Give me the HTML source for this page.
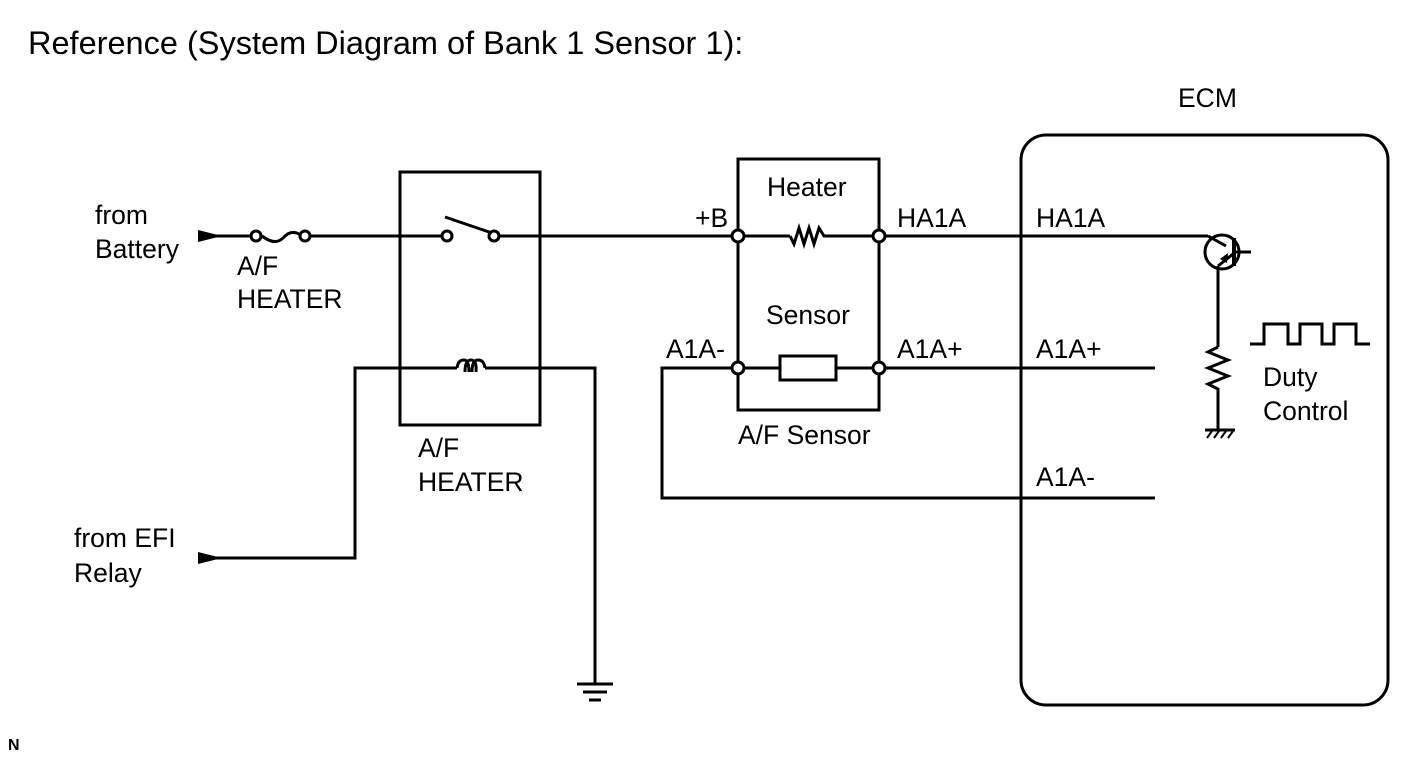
<!DOCTYPE html>
<html><head><style>
body{margin:0;background:#fff;}
svg{display:block;}
text{font-family:"Liberation Sans",sans-serif;font-size:26.5px;fill:#000;}
</style></head><body>
<svg width="1424" height="759" viewBox="0 0 1424 759" xmlns="http://www.w3.org/2000/svg">
<g stroke="#000" stroke-width="3" fill="none">
<line x1="200" y1="236" x2="250" y2="236"/>
<line x1="310" y1="236" x2="444" y2="236"/>
<line x1="498" y1="236" x2="733" y2="236"/>
<path d="M262 236 Q275 246 283 238 Q292 228 302 236"/>
<circle cx="256" cy="236" r="5" fill="#fff"/>
<circle cx="305" cy="236" r="5" fill="#fff"/>
<circle cx="447" cy="236" r="5" fill="#fff"/>
<circle cx="494" cy="236" r="5" fill="#fff"/>
<line x1="445" y1="217" x2="492" y2="233"/>
<rect x="400" y="172" width="140" height="253"/>
<polyline points="200,558 355,558 355,368 457,368"/>
<polyline points="485,368 595,368 595,683"/>
<path d="M457 368 Q458 360 464 360 Q469 360 469 372 M465 372 Q465 360 471 360 Q477 360 476 372 M472 372 Q472 360 478 360 Q484 360 485 368"/>
<line x1="577" y1="684" x2="613" y2="684"/>
<line x1="583" y1="692" x2="607" y2="692"/>
<line x1="589" y1="700" x2="601" y2="700"/>
<rect x="738" y="159" width="141" height="251"/>
<line x1="738" y1="236" x2="790" y2="236"/>
<polyline points="790,236 794,244 799,228 804,244 809,228 814,244 819,228 824,236 879,236" stroke-linejoin="miter"/>
<line x1="738" y1="368" x2="780" y2="368"/>
<rect x="780" y="356" width="56" height="24"/>
<line x1="836" y1="368" x2="879" y2="368"/>
<line x1="879" y1="236" x2="1208" y2="236"/>
<line x1="879" y1="368" x2="1155" y2="368"/>
<polyline points="733,368 662,368 662,498 1155,498"/>
<circle cx="738" cy="236" r="6" fill="#fff"/>
<circle cx="879" cy="236" r="6" fill="#fff"/>
<circle cx="738" cy="368" r="6" fill="#fff"/>
<circle cx="879" cy="368" r="6" fill="#fff"/>
<rect x="1021" y="135" width="367" height="570" rx="25"/>
<circle cx="1222" cy="252" r="17"/>
<line x1="1208" y1="236" x2="1226" y2="246"/>
<line x1="1234" y1="238" x2="1234" y2="266" stroke-width="4"/>
<line x1="1234" y1="252" x2="1251" y2="252"/>
<line x1="1218" y1="266" x2="1233" y2="254"/>
<line x1="1218" y1="266" x2="1218" y2="347"/>
<polyline points="1218,347 1208,352 1228,360 1208,368 1228,376 1208,384 1218,389 1218,430"/>
<line x1="1205" y1="430" x2="1235" y2="430"/>
<line x1="1207" y1="438" x2="1212" y2="431" stroke-width="2"/>
<line x1="1214" y1="438" x2="1219" y2="431" stroke-width="2"/>
<line x1="1221" y1="438" x2="1226" y2="431" stroke-width="2"/>
<line x1="1228" y1="438" x2="1233" y2="431" stroke-width="2"/>
<polyline points="1250,344 1264,344 1264,324 1288,324 1288,344 1300,344 1300,324 1322,324 1322,344 1334,344 1334,324 1356,324 1356,344 1370,344"/>
</g>
<polygon points="198,230 222,236 198,242" fill="#000"/>
<polygon points="198,552 222,558 198,564" fill="#000"/>
<polygon points="1220,259 1228,253 1227,263" fill="#000"/>
<text x="28" y="54" style="font-size:32.5px">Reference (System Diagram of Bank 1 Sensor 1):</text>
<text x="1178" y="107">ECM</text>
<text x="95" y="224">from</text>
<text x="95" y="258">Battery</text>
<text x="237" y="275">A/F</text>
<text x="237" y="308">HEATER</text>
<text x="418" y="457">A/F</text>
<text x="418" y="491">HEATER</text>
<text x="74" y="547">from EFI</text>
<text x="74" y="582">Relay</text>
<text x="767" y="196">Heater</text>
<text x="766" y="324">Sensor</text>
<text x="695" y="227">+B</text>
<text x="897" y="227">HA1A</text>
<text x="666" y="358">A1A-</text>
<text x="897" y="358">A1A+</text>
<text x="738" y="444">A/F Sensor</text>
<text x="1036" y="227">HA1A</text>
<text x="1036" y="358">A1A+</text>
<text x="1036" y="486">A1A-</text>
<text x="1263" y="386">Duty</text>
<text x="1263" y="420">Control</text>
<text x="8" y="750" style="font-size:16px;font-weight:bold">N</text>
</svg>
</body></html>
